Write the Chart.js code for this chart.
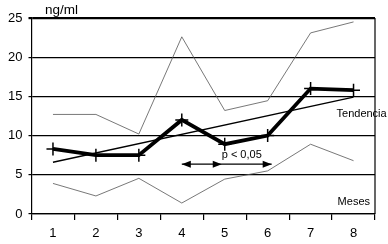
<!DOCTYPE html>
<html><head><meta charset="utf-8">
<script src="https://cdn.jsdelivr.net/npm/chart.js@4.4.1/dist/chart.umd.min.js"></script>
<style>html,body{margin:0;padding:0;background:#fff;}#wrap{width:388px;height:244px;position:relative;}</style>
</head><body><div id="wrap"><canvas id="c" width="388" height="244"></canvas></div>
<script>
const categories = ['1','2','3','4','5','6','7','8'];
const meanValues = [8.3, 7.5, 7.5, 12.0, 8.9, 10.0, 16.0, 15.8];
const upperValues = [12.7, 12.7, 10.2, 22.6, 13.2, 14.45, 23.1, 24.5];
const lowerValues = [3.9, 2.3, 4.55, 1.4, 4.45, 5.5, 8.9, 6.8];
const trendValues = [6.6, null, null, null, null, null, null, 14.9];
const yTicks = [0, 5, 10, 15, 20, 25];
const FONT = 'Liberation Sans, Arial, sans-serif';

const annotPlugin = {
  id: 'annot',
  afterDatasetsDraw(chart) {
    const {ctx, chartArea: a, scales: {x, y}} = chart;
    ctx.save();
    ctx.strokeStyle = '#000'; ctx.lineWidth = 1.2;
    ctx.beginPath(); ctx.moveTo(a.right, a.top); ctx.lineTo(a.right, a.bottom); ctx.stroke();
    ctx.fillStyle = '#000';
    ctx.textBaseline = 'middle';
    ctx.font = '13.5px ' + FONT;
    ctx.textAlign = 'left';
    ctx.fillText('ng/ml', 45, 10);
    ctx.font = '11px ' + FONT;
    ctx.fillText('Tendencia', x.getPixelForValue(7) - 17, y.getPixelForValue(12.8));
    ctx.textAlign = 'right';
    ctx.fillText('Meses', a.right - 5, y.getPixelForValue(1.5));
    ctx.textAlign = 'left';
    ctx.fillText('p < 0,05', x.getPixelForValue(4) - 3, y.getPixelForValue(7.55));
    const ay = y.getPixelForValue(6.35);
    const x4 = x.getPixelForValue(3), x5 = x.getPixelForValue(4) - 3, x6 = x.getPixelForValue(5) + 4;
    ctx.lineWidth = 1.2; ctx.strokeStyle = '#000';
    ctx.beginPath(); ctx.moveTo(x4, ay); ctx.lineTo(x6, ay); ctx.stroke();
    function head(px, dir) {
      ctx.beginPath();
      ctx.moveTo(px, ay);
      ctx.lineTo(px - dir * 9, ay - 3.5);
      ctx.lineTo(px - dir * 9, ay + 3.5);
      ctx.closePath(); ctx.fill();
    }
    head(x4, -1); head(x5, 1); head(x6, 1);
    ctx.restore();
  }
};

new Chart(document.getElementById('c'), {
  type: 'line',
  data: {
    labels: categories,
    datasets: [
      {data: upperValues, borderColor: '#555', borderWidth: 0.8, pointRadius: 0, tension: 0, fill: false},
      {data: lowerValues, borderColor: '#555', borderWidth: 0.8, pointRadius: 0, tension: 0, fill: false},
      {data: trendValues, borderColor: '#000', borderWidth: 1.3, pointRadius: 0, spanGaps: true, tension: 0, fill: false},
      {data: meanValues, borderColor: '#000', borderWidth: 3.8, pointStyle: 'cross', pointRadius: 6.5,
       pointBorderWidth: 1.5, pointBorderColor: '#000', pointBackgroundColor: '#000', tension: 0, fill: false}
    ]
  },
  options: {
    responsive: false, animation: false, devicePixelRatio: 1,
    layout: {padding: {top: 18, right: 13, left: 0, bottom: 0}},
    plugins: {legend: {display: false}, tooltip: {enabled: false}},
    scales: {
      x: {
        offset: true,
        grid: {offset: true, drawOnChartArea: false, drawTicks: true, tickLength: 6, color: '#000', lineWidth: 1.2},
        border: {color: '#000', width: 1.2},
        ticks: {color: '#000', font: {size: 13, family: FONT}, padding: 6, maxRotation: 0},
        afterFit(s) { s.height = 30; }
      },
      y: {
        min: 0, max: 25,
        afterBuildTicks(s) { s.ticks = yTicks.map(v => ({value: v})); },
        grid: {color: '#000', lineWidth: c => c.tick && c.tick.value === 25 ? 2.2 : 1.2, tickLength: 3},
        border: {color: '#000', width: 1.2},
        ticks: {color: '#000', font: {size: 13, family: FONT}, padding: 6},
        afterFit(s) { s.width = 31.5; }
      }
    }
  },
  plugins: [annotPlugin]
});
</script></body></html>
